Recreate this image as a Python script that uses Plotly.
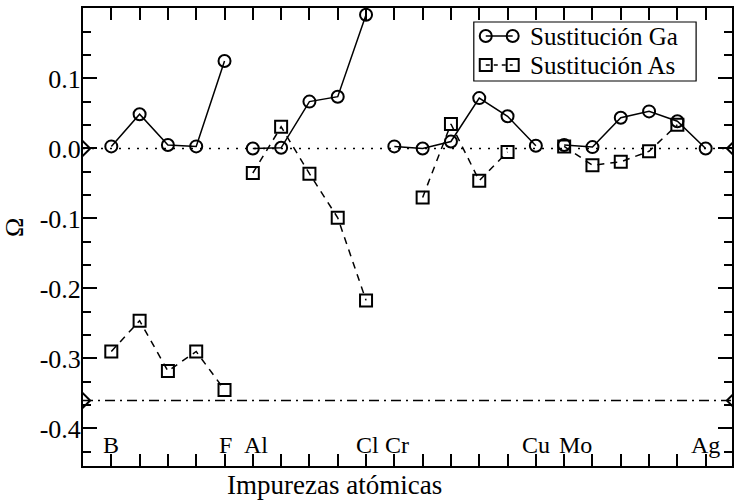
import plotly.graph_objects as go

# ---- data ----
elements = ["B", "C", "N", "O", "F",
            "Al", "Si", "P", "S", "Cl",
            "Cr", "Mn", "Fe", "Co", "Ni", "Cu",
            "Mo", "Tc", "Ru", "Rh", "Pd", "Ag"]
group_sizes = [5, 5, 6, 6]

omega_ga = [0.003, 0.049, 0.005, 0.003, 0.125,
            0.000, 0.001, 0.067, 0.074, 0.191,
            0.003, 0.000, 0.010, 0.072, 0.046, 0.004,
            0.005, 0.002, 0.044, 0.053, 0.039, 0.000]
omega_as = [-0.290, -0.246, -0.318, -0.290, -0.345,
            -0.035, 0.031, -0.036, -0.099, -0.217,
            None, -0.070, 0.035, -0.046, -0.005, None,
            0.003, -0.024, -0.019, -0.004, 0.034, None]

labelled = ["B", "F", "Al", "Cl", "Cr", "Cu", "Mo", "Ag"]
ref_levels = [0.0, -0.36]
ref_x = [0, 23]

y_tickvals = [0.1, 0.0, -0.1, -0.2, -0.3, -0.4]
y_ticktext = ["0.1", "0.0", "-0.1", "-0.2", "-0.3", "-0.4"]

series_names = ["Sustitución Ga", "Sustitución As"]

# positions of elements on the axis (1..22)
pos = list(range(1, len(elements) + 1))


def with_gaps(vals):
    xs, ys = [], []
    i = 0
    for g in group_sizes:
        xs += pos[i:i + g] + [None]
        ys += vals[i:i + g] + [None]
        i += g
    return xs, ys


FONT = "Liberation Serif, Times New Roman, serif"
BLACK = "black"

ga_line = dict(color=BLACK, width=1.5)
as_line = dict(color=BLACK, width=1.5, dash="7px,6px")
ga_marker = dict(symbol="circle-open", size=12, color=BLACK, line=dict(width=2, color=BLACK))
as_marker = dict(symbol="square-open", size=12, color=BLACK, line=dict(width=2, color=BLACK))

fig = go.Figure()

# reference lines
fig.add_trace(go.Scatter(x=ref_x, y=[ref_levels[0]] * 2, mode="lines+markers",
                         line=dict(color=BLACK, width=1.5, dash="2px,7px"),
                         marker=dict(symbol="diamond-open", size=11, color=BLACK,
                                     line=dict(width=2, color=BLACK)),
                         showlegend=False, hoverinfo="skip"))
fig.add_trace(go.Scatter(x=ref_x, y=[ref_levels[1]] * 2, mode="lines+markers",
                         line=dict(color=BLACK, width=1.5, dash="10px,5px,2px,5px"),
                         marker=dict(symbol="diamond-open", size=11, color=BLACK,
                                     line=dict(width=2, color=BLACK)),
                         showlegend=False, hoverinfo="skip"))

xg, yg = with_gaps(omega_ga)
fig.add_trace(go.Scatter(x=xg, y=yg, mode="lines+markers", name=series_names[0],
                         connectgaps=False, line=ga_line, marker=ga_marker,
                         showlegend=False))
xa, ya = with_gaps(omega_as)
fig.add_trace(go.Scatter(x=xa, y=ya, mode="lines+markers", name=series_names[1],
                         connectgaps=False, line=as_line, marker=as_marker,
                         showlegend=False))

# ---- legend drawn on an overlay axis measured in pixels ----
LX0, LX1, LY0, LY1 = 475, 698, 22, 81
row_y = [36, 65]
sym_x = [487, 514]
fig.add_shape(type="rect", xref="x2", yref="y2", x0=LX0, x1=LX1, y0=LY0, y1=LY1,
              line=dict(color=BLACK, width=1.2), fillcolor="white", layer="below")
fig.add_trace(go.Scatter(x=sym_x, y=[row_y[0]] * 2, xaxis="x2", yaxis="y2",
                         mode="lines+markers", line=ga_line, marker=ga_marker,
                         showlegend=False, hoverinfo="skip", cliponaxis=False))
fig.add_trace(go.Scatter(x=sym_x, y=[row_y[1]] * 2, xaxis="x2", yaxis="y2",
                         mode="lines+markers", line=dict(color=BLACK, width=1.5, dash="4px,4px"),
                         marker=as_marker,
                         showlegend=False, hoverinfo="skip", cliponaxis=False))
for ry, nm in zip(row_y, series_names):
    fig.add_annotation(x=529, y=ry, xref="x2", yref="y2", text=nm, showarrow=False,
                       xanchor="left", yanchor="middle",
                       font=dict(family=FONT, size=25, color=BLACK))

# element labels inside the frame
label_shift = {"F": 0.05, "Al": 0.1, "Cl": 0.05, "Cr": 0.1, "Mo": 0.4}
for el in labelled:
    xi = pos[elements.index(el)]
    fig.add_annotation(x=xi + label_shift.get(el, 0.0), y=-0.424, xref="x", yref="y",
                       text=el, showarrow=False, xanchor="center", yanchor="middle",
                       font=dict(family=FONT, size=24, color=BLACK))

fig.add_annotation(x=0.387, y=-0.0415, xref="paper", yref="paper",
                   text="Impurezas atómicas", showarrow=False,
                   xanchor="center", yanchor="middle",
                   font=dict(family=FONT, size=27, color=BLACK))
fig.add_annotation(x=-0.1045, y=0.52, xref="paper", yref="paper",
                   text="Ω", showarrow=False, textangle=-90,
                   xanchor="center", yanchor="middle",
                   font=dict(family=FONT, size=26, color=BLACK))

fig.update_layout(
    xaxis=dict(range=[0, 22.93], showgrid=False, zeroline=False,
               showline=True, linecolor=BLACK, linewidth=2, mirror="allticks",
               ticks="inside", ticklen=12, tickwidth=2, tickcolor=BLACK,
               tick0=0, dtick=1, showticklabels=False),
    yaxis=dict(range=[-0.4536, 0.2007], showgrid=False, zeroline=False,
               showline=True, linecolor=BLACK, linewidth=2, mirror="allticks",
               ticks="inside", ticklen=14, tickwidth=2, tickcolor=BLACK,
               tickmode="array", tickvals=y_tickvals, ticktext=y_ticktext,
               ticklabelstandoff=-5,
               tickfont=dict(family=FONT, size=26, color=BLACK),
               minor=dict(ticks="inside", ticklen=8, tickwidth=2, tickcolor=BLACK,
                          tickmode="linear", dtick=0.1 / 3, tick0=0, showgrid=False)),
    xaxis2=dict(overlaying="x", anchor="y2", range=[83, 734], visible=False),
    yaxis2=dict(overlaying="y", anchor="x2", range=[466, 8], visible=False),
    width=734, height=501,
    margin=dict(l=83, r=0, t=8, b=35),
    paper_bgcolor="white", plot_bgcolor="white",
    font=dict(family=FONT, size=24, color=BLACK),
    showlegend=False,
)

fig.write_html("out.html")
